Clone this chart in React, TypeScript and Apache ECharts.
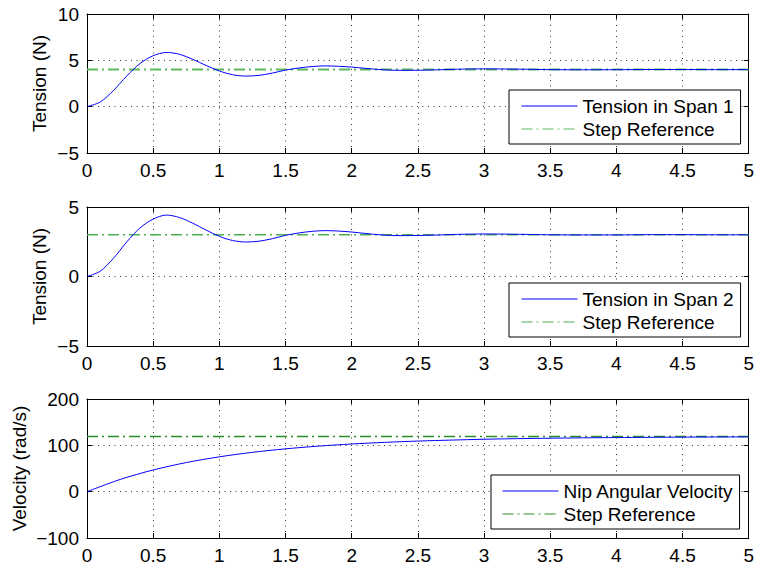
import React, { useEffect, useRef } from "react";
import * as echarts from "echarts";

// Simulation time (s) for the tension responses
const TIME = [
  0, 0.1, 0.2, 0.3, 0.4, 0.5, 0.6, 0.7, 0.8, 0.9, 1.0, 1.1, 1.2, 1.3, 1.4, 1.5,
  1.6, 1.7, 1.8, 1.9, 2.0, 2.1, 2.2, 2.3, 2.4, 2.5, 2.6, 2.7, 2.8, 2.9, 3.0,
  3.25, 3.5, 3.75, 4.0, 4.25, 4.5, 4.75, 5.0,
];

// Tension in span 1 (N)
const TENSION_1 = [
  0, 0.5, 1.75, 3.3, 4.65, 5.5, 5.85, 5.65, 5.1, 4.45, 3.85, 3.45, 3.3, 3.38,
  3.62, 3.95, 4.17, 4.33, 4.4, 4.36, 4.27, 4.14, 4.02, 3.94, 3.92, 3.93, 3.96,
  4.0, 4.04, 4.07, 4.08, 4.05, 4.0, 3.98, 3.99, 4.01, 4.01, 4.0, 4.0,
];

// Tension in span 2 (N)
const TENSION_2 = [
  0, 0.38, 1.31, 2.48, 3.49, 4.13, 4.42, 4.24, 3.83, 3.34, 2.89, 2.59, 2.48,
  2.54, 2.72, 2.96, 3.13, 3.25, 3.3, 3.27, 3.2, 3.1, 3.01, 2.95, 2.94, 2.95,
  2.97, 3.0, 3.03, 3.05, 3.06, 3.04, 3.0, 2.99, 2.99, 3.01, 3.01, 3.0, 3.0,
];

// Nip angular velocity (rad/s)
const VEL_TIME = [
  0, 0.25, 0.5, 0.75, 1.0, 1.25, 1.5, 1.75, 2.0, 2.25, 2.5, 2.75, 3.0, 3.25,
  3.5, 3.75, 4.0, 4.25, 4.5, 4.75, 5.0,
];
const VELOCITY = [
  0, 26.3, 46.8, 62.8, 75.2, 84.9, 92.4, 98.3, 102.9, 106.4, 109.2, 111.3,
  113.1, 114.4, 115.4, 116.2, 116.8, 117.3, 117.7, 118.0, 118.2,
];

// Step references
const REF_TENSION_1 = 4;
const REF_TENSION_2 = 3;
const REF_VELOCITY = 119;
const T_RANGE = [0, 5];

// Axis ranges
const Y_RANGES = [
  { min: -5, max: 10, interval: 5, name: "Tension (N)", gap: 38 },
  { min: -5, max: 5, interval: 5, name: "Tension (N)", gap: 38 },
  { min: -100, max: 200, interval: 100, name: "Velocity (rad/s)", gap: 58 },
];

const LEGEND_TEXT: Record<string, string> = {
  t1: "Tension in Span 1",
  r1: "Step Reference",
  t2: "Tension in Span 2",
  r2: "Step Reference",
  v: "Nip Angular Velocity",
  r3: "Step Reference",
};

const FONT = "'Liberation Sans', Arial, Helvetica, sans-serif";
const FS = 19;

export default function App() {
  const ref = useRef<HTMLDivElement>(null);

  useEffect(() => {
    document.body.style.margin = "0";
    if (!ref.current) return;
    const chart = echarts.init(ref.current, null, { renderer: "svg" });

    const tops = [14, 207, 399];
    const grids = tops.map((top) => ({
      left: 87,
      top,
      width: 663,
      height: 139,
      containLabel: false,
    }));

    const minus = (v: number) => String(v).replace("-", "\u2212");
    const gridLine = {
      show: true,
      lineStyle: { color: "#333", width: 1, type: [1, 4.5] as number[] },
    };
    const frameLine = { show: true, onZero: false, lineStyle: { color: "#000", width: 1 } };
    const tick = { show: true, inside: true, length: 5, lineStyle: { color: "#000" } };

    const xAxis: any[] = [];
    const yAxis: any[] = [];
    tops.forEach((_, g) => {
      xAxis.push({
        type: "value",
        gridIndex: g,
        position: "bottom",
        min: T_RANGE[0],
        max: T_RANGE[1],
        interval: 0.5,
        axisLine: frameLine,
        axisTick: tick,
        splitLine: gridLine,
        axisLabel: {
          color: "#000",
          fontSize: FS,
          fontFamily: FONT,
          margin: 8,
          formatter: (v: number) => String(v),
        },
      });
      xAxis.push({
        type: "value",
        gridIndex: g,
        position: "top",
        min: T_RANGE[0],
        max: T_RANGE[1],
        interval: 0.5,
        axisLine: frameLine,
        axisTick: tick,
        splitLine: { show: false },
        axisLabel: { show: false },
      });
      const yr = Y_RANGES[g];
      yAxis.push({
        type: "value",
        gridIndex: g,
        position: "left",
        min: yr.min,
        max: yr.max,
        interval: yr.interval,
        name: yr.name,
        nameLocation: "middle",
        nameGap: yr.gap,
        nameMoveOverlap: false,
        nameTextStyle: { color: "#000", fontSize: FS, fontFamily: FONT },
        axisLine: frameLine,
        axisTick: tick,
        splitLine: gridLine,
        axisLabel: {
          color: "#000",
          fontSize: FS,
          fontFamily: FONT,
          margin: 8,
          formatter: minus,
        },
      });
      yAxis.push({
        type: "value",
        gridIndex: g,
        position: "right",
        min: yr.min,
        max: yr.max,
        interval: yr.interval,
        axisLine: frameLine,
        axisTick: tick,
        splitLine: { show: false },
        axisLabel: { show: false },
      });
    });

    const response = (name: string, g: number, xs: number[], ys: number[]) => ({
      name,
      type: "line",
      xAxisIndex: g * 2,
      yAxisIndex: g * 2,
      data: xs.map((t, i) => [t, ys[i]]),
      smooth: 0.3,
      symbol: "none",
      showSymbol: false,
      lineStyle: { color: "#0000ff", width: 1 },
      itemStyle: { color: "#0000ff" },
      z: 3,
    });
    const reference = (name: string, g: number, value: number, color: string, width: number) => ({
      name,
      type: "line",
      xAxisIndex: g * 2,
      yAxisIndex: g * 2,
      data: T_RANGE.map((t) => [t, value]),
      symbol: "none",
      showSymbol: false,
      lineStyle: { color, width, type: [11, 4, 2, 4] as number[] },
      itemStyle: { color },
      z: 2,
    });

    const legend = (names: string[], left: number, top: number, padding: number[]) => ({
      data: names,
      orient: "vertical",
      left,
      top,
      padding,
      itemGap: 3,
      itemWidth: 56,
      itemHeight: 14,
      itemStyle: { opacity: 0 },
      lineStyle: { width: 1 },
      backgroundColor: "#fff",
      borderColor: "#000",
      borderWidth: 1,
      borderRadius: 0,
      selectedMode: false,
      formatter: (n: string) => LEGEND_TEXT[n] ?? n,
      textStyle: {
        color: "#000",
        fontSize: FS,
        fontFamily: FONT,
        lineHeight: 20,
      },
    });

    chart.setOption({
      animation: false,
      backgroundColor: "#fff",
      textStyle: { fontFamily: FONT },
      grid: grids,
      xAxis,
      yAxis,
      legend: [
        legend(["t1", "r1"], 509, 90, [6, 7, 5, 12]),
        legend(["t2", "r2"], 509, 283, [6, 7, 5, 12]),
        legend(["v", "r3"], 491, 475, [6, 6, 5, 11]),
      ],
      series: [
        response("t1", 0, TIME, TENSION_1),
        reference("r1", 0, REF_TENSION_1, "#5cb85c", 2),
        response("t2", 1, TIME, TENSION_2),
        reference("r2", 1, REF_TENSION_2, "#4caf50", 1.5),
        response("v", 2, VEL_TIME, VELOCITY),
        reference("r3", 2, REF_VELOCITY, "#2a8f2a", 1.5),
      ],
    });

    return () => chart.dispose();
  }, []);

  return <div ref={ref} style={{ width: 757, height: 568 }} />;
}
